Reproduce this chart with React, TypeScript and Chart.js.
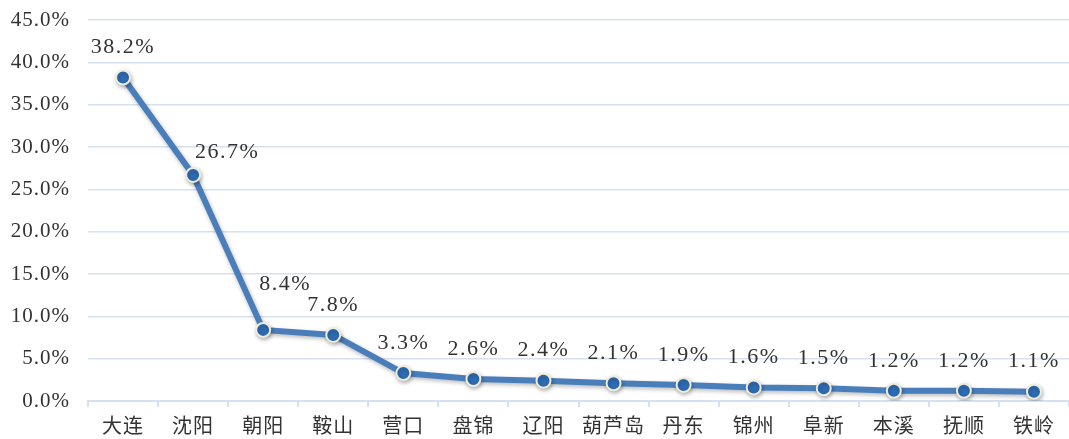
import React, { useEffect, useRef } from "react";
import { Chart, registerables } from "chart.js";

Chart.register(...registerables);

const categories = ["大连", "沈阳", "朝阳", "鞍山", "营口", "盘锦", "辽阳", "葫芦岛", "丹东", "锦州", "阜新", "本溪", "抚顺", "铁岭"];
const shares = [38.2, 26.7, 8.4, 7.8, 3.3, 2.6, 2.4, 2.1, 1.9, 1.6, 1.5, 1.2, 1.2, 1.1];
const yMin = 0;
const yMax = 45;
const yStep = 5;

const numFont = "'Liberation Serif', 'Noto Sans CJK SC', serif";
const cjkFont = "'Noto Sans CJK SC', 'Liberation Serif', sans-serif";
const textColor = "#333333";
const gridColor = "#d5e0f1";

const labelAdjust: Record<number, { dx: number; dy: number }> = {
  1: { dx: 34, dy: 7 },
  2: { dx: 22, dy: -16 },
};

const spacingPlugin = {
  id: "spacing",
  beforeDraw(chart: any) {
    (chart.ctx as any).letterSpacing = "1px";
  },
};

const shadowPlugin = {
  id: "shadow",
  beforeDatasetsDraw(chart: any) {
    const ctx = chart.ctx;
    ctx.save();
    ctx.shadowColor = "rgba(0,0,0,0.28)";
    ctx.shadowBlur = 4;
    ctx.shadowOffsetX = 1;
    ctx.shadowOffsetY = 2;
  },
  afterDatasetsDraw(chart: any) {
    chart.ctx.restore();
  },
};

const labelPlugin = {
  id: "valueLabels",
  afterDatasetsDraw(chart: any) {
    const ctx = chart.ctx;
    const meta = chart.getDatasetMeta(0);
    ctx.save();
    (ctx as any).letterSpacing = "1.5px";
    ctx.font = `22px ${numFont}`;
    ctx.fillStyle = textColor;
    ctx.textAlign = "center";
    ctx.textBaseline = "middle";
    meta.data.forEach((pt: any, i: number) => {
      const adj = labelAdjust[i] || { dx: 0, dy: 0 };
      ctx.fillText(`${shares[i].toFixed(1)}%`, pt.x + adj.dx, pt.y - 30 + adj.dy);
    });
    ctx.restore();
  },
};

export default function App() {
  const ref = useRef<HTMLCanvasElement | null>(null);
  useEffect(() => {
    if (!ref.current) return;
    const chart = new Chart(ref.current, {
      type: "line",
      data: {
        labels: categories,
        datasets: [
          {
            data: shares,
            borderColor: "#4a7ebb",
            borderWidth: 6,
            pointRadius: 7,
            pointBackgroundColor: "#2e6cb5",
            pointBorderColor: "#eeecdc",
            pointBorderWidth: 2,
            tension: 0,
          },
        ],
      },
      options: {
        animation: false,
        responsive: true,
        maintainAspectRatio: false,
        layout: { autoPadding: false, padding: { top: 20, right: 0, left: 0, bottom: 0 } },
        plugins: { legend: { display: false }, tooltip: { enabled: false } },
        scales: {
          x: {
            offset: true,
            afterFit(scale: any) {
              scale.height = 38;
            },
            grid: {
              offset: true,
              drawOnChartArea: false,
              drawTicks: true,
              tickLength: 6,
              color: gridColor,
              lineWidth: 2,
            },
            border: { display: true, color: gridColor, width: 2 },
            ticks: {
              color: textColor,
              font: { family: cjkFont, size: 20 },
              padding: 6,
              maxRotation: 0,
              autoSkip: false,
            },
          },
          y: {
            min: yMin,
            max: yMax,
            afterFit(scale: any) {
              scale.width = 88;
              scale.paddingTop = 12;
            },
            grid: { color: gridColor, lineWidth: 1.5, drawTicks: false },
            border: { display: false },
            ticks: {
              stepSize: yStep,
              padding: 18,
              color: textColor,
              font: { family: numFont, size: 21 },
              callback: (v: any) => `${Number(v).toFixed(1)}%`,
            },
          },
        },
      },
      plugins: [spacingPlugin, shadowPlugin, labelPlugin],
    });
    return () => chart.destroy();
  }, []);
  return (
    <div style={{ position: "fixed", left: 0, top: 0, width: 1069, height: 439, background: "#fff" }}>
      <canvas ref={ref} />
    </div>
  );
}
